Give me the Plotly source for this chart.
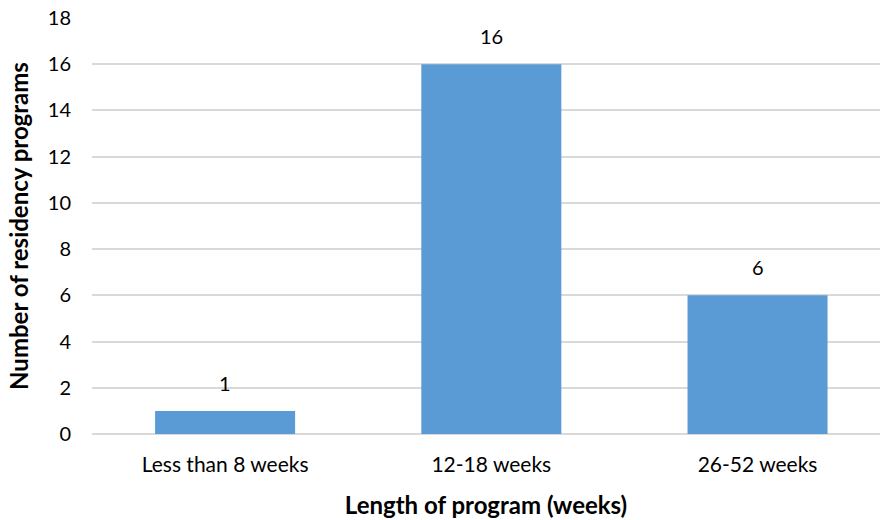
import plotly.graph_objects as go

categories = ["Less than 8 weeks", "12-18 weeks", "26-52 weeks"]
programs = [1, 16, 6]
y_ticks = [0, 2, 4, 6, 8, 10, 12, 14, 16, 18]

font_family = "Lato, 'Open Sans', sans-serif"

fig = go.Figure(
    go.Bar(
        x=categories,
        y=programs,
        marker=dict(color="#5B9BD5", line=dict(width=0)),
        hoverinfo="x+y",
    )
)

# value labels sitting above each bar
for cat, val in zip(categories, programs):
    fig.add_annotation(
        x=cat,
        y=val,
        text=str(val),
        showarrow=False,
        yanchor="bottom",
        yshift=14,
        font=dict(size=20, color="#000000", family=font_family),
    )

fig.update_layout(
    width=880,
    height=520,
    margin=dict(l=92, r=0, t=18, b=86),
    paper_bgcolor="white",
    plot_bgcolor="white",
    bargap=0.474,
    showlegend=False,
    font=dict(family=font_family, color="#000000", size=20),
    xaxis=dict(
        type="category",
        range=[-0.5, 2.46],
        showgrid=False,
        showline=False,
        ticks="",
        tickfont=dict(size=21),
        ticklabelstandoff=16,
        title=dict(text="<b>Length of program (weeks)</b>", font=dict(size=24), standoff=22),
    ),
    yaxis=dict(
        range=[0, 18],
        tickvals=y_ticks,
        showgrid=True,
        gridcolor="#D9D9D9",
        gridwidth=1.5,
        zeroline=True,
        zerolinecolor="#D9D9D9",
        zerolinewidth=1.5,
        showline=False,
        ticks="",
        ticklabelstandoff=20,
        tickfont=dict(size=20),
        title=dict(text="<b>Number of residency programs</b>", font=dict(size=24), standoff=12),
    ),
)

fig.write_html("out.html")
